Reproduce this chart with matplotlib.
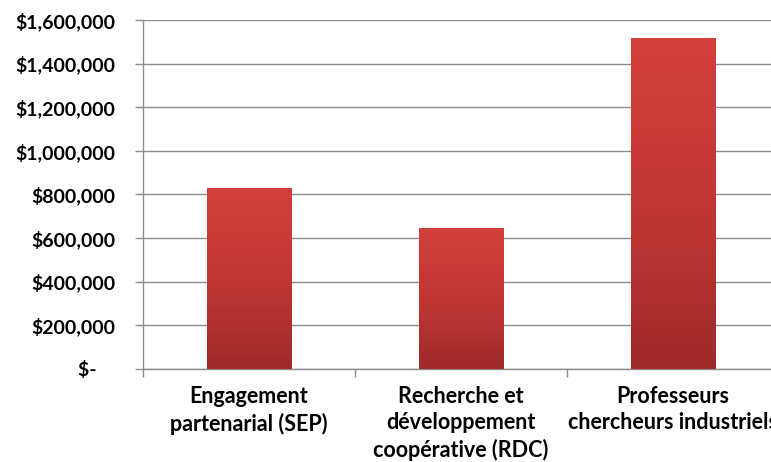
import matplotlib

matplotlib.use("Agg")
import matplotlib.pyplot as plt
import numpy as np
from matplotlib.colors import LinearSegmentedColormap
from matplotlib.ticker import FuncFormatter, MultipleLocator

categories = [
    "Engagement\npartenarial (SEP)",
    "Recherche et\ndéveloppement\ncoopérative (RDC)",
    "Professeurs\nchercheurs industriels",
]
values = [832000, 648000, 1517000]

plt.rcParams["font.family"] = ["Lato", "DejaVu Sans"]
plt.rcParams["font.weight"] = "bold"

fig = plt.figure(figsize=(7.71, 4.62), dpi=100)
# plot area runs a little past the right edge, as in the cropped original
ax = fig.add_axes([143 / 771, 93 / 462, 636 / 771, 349 / 462])

x = np.arange(len(categories))
bars = ax.bar(x, values, width=0.4, color="#c03534", zorder=3)

# vertical red gradient on each bar
cmap = LinearSegmentedColormap.from_list("bar", ["#9e2a29", "#c23636", "#d13f3c"])
grad = np.linspace(0, 1, 256).reshape(-1, 1)
for b in bars:
    x0, y0 = b.get_x(), b.get_y()
    w, h = b.get_width(), b.get_height()
    im = ax.imshow(grad, cmap=cmap, origin="lower", aspect="auto",
                   extent=[x0, x0 + w, y0, y0 + h], zorder=4)
    im.set_clip_path(b)

ax.set_xlim(-0.5, 2.5)
ax.set_ylim(0, 1600000)

ax.yaxis.set_major_locator(MultipleLocator(200000))
ax.yaxis.set_major_formatter(
    FuncFormatter(lambda v, p: "$-    " if v == 0 else f"${v:,.0f}"))
ax.grid(axis="y", color="#8c8c8c", linewidth=1.0, zorder=0)

ax.set_xticks([-0.5, 0.5, 1.5, 2.5])
ax.set_xticklabels([])
ax.set_xticks(x, minor=True)
ax.set_xticklabels(categories, minor=True, linespacing=1.33)
ax.tick_params(axis="x", which="major", direction="out", length=6,
               color="#8c8c8c", width=1)
ax.tick_params(axis="x", which="minor", length=0, pad=12, labelsize=15.5)
ax.tick_params(axis="y", direction="out", length=6, color="#8c8c8c",
               width=1, pad=14, labelsize=14)

for side in ("top", "right"):
    ax.spines[side].set_visible(False)
for side in ("left", "bottom"):
    ax.spines[side].set_color("#8c8c8c")
    ax.spines[side].set_linewidth(1.0)

fig.savefig("out.png", dpi=100)
